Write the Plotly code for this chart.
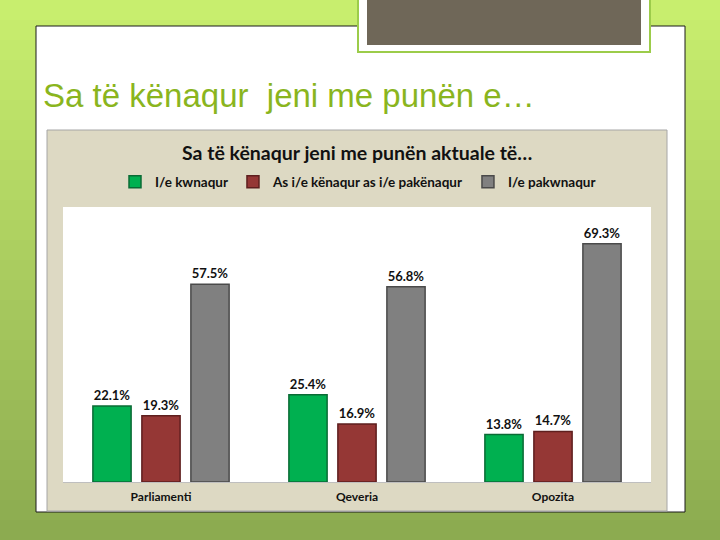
import plotly.graph_objects as go

categories = ["Parliamenti", "Qeveria", "Opozita"]
series_names = ["I/e kwnaqur", "As i/e kënaqur as i/e pakënaqur", "I/e pakwnaqur"]
satisfied = [22.1, 25.4, 13.8]
neutral = [19.3, 16.9, 14.7]
dissatisfied = [57.5, 56.8, 69.3]
series_values = [satisfied, neutral, dissatisfied]
fill_colors = ["#00b050", "#953735", "#808080"]
edge_colors = ["#0a6b35", "#5e1f1e", "#4a4a4a"]

slide_title = "Sa të kënaqur  jeni me punën e…"
chart_title = "Sa të kënaqur jeni me punën aktuale të…"

W, H = 720, 540
L, R, T, B = 63, 651, 207, 482


def px(x):
    return (x - L) / (R - L)


def py(y):
    return (B - y) / (B - T)


def rect(x0, y0, x1, y1, fill, line=None, lw=0):
    return dict(type="rect", xref="paper", yref="paper",
                x0=px(x0), x1=px(x1), y0=py(y1), y1=py(y0),
                fillcolor=fill, line=dict(color=line or fill, width=lw),
                layer="below")


def lerp(c1, c2, t):
    return "#%02x%02x%02x" % tuple(int(round(a + (b - a) * t)) for a, b in zip(c1, c2))


shapes = []
top_c = (0xc8, 0xee, 0x6e)
bot_c = (0x8c, 0xab, 0x50)
n = 27
for i in range(n):
    y0 = i * H / n
    y1 = (i + 1) * H / n + 1
    shapes.append(rect(0, y0, W, y1, lerp(top_c, bot_c, i / (n - 1))))

# white slide panel
shapes.append(rect(36, 26, 685, 512, "#ffffff", "#1a1a1a", 1))
# header box
shapes.append(rect(358, -2, 650, 52, "#ffffff", "#9ccc4a", 2))
shapes.append(rect(367, -2, 641, 45, "#6f6758"))
# chart box
shapes.append(rect(47, 130, 667, 511, "#ddd9c3", "#a6a6a6", 1))
# plot area
shapes.append(rect(L, T, R, B, "#ffffff"))

fig = go.Figure()
for name, vals, fc, ec in zip(series_names, series_values, fill_colors, edge_colors):
    fig.add_trace(go.Bar(
        x=categories, y=vals, name=name,
        marker=dict(color=fc, line=dict(color=ec, width=1.5)),
        text=[f"<b>{v:.1f}%</b>" for v in vals], textposition="outside",
        textfont=dict(family="Lato, Open Sans, sans-serif", size=13, color="#111111"),
        cliponaxis=False,
    ))

annotations = [
    dict(text=slide_title, xref="paper", yref="paper", x=px(41), y=py(95),
         xanchor="left", yanchor="middle", showarrow=False,
         font=dict(family="Liberation Sans, Arial, sans-serif", size=33, color="#8ab51e")),
    dict(text="<b>" + chart_title + "</b>", xref="paper", yref="paper", x=px(357), y=py(152),
         xanchor="center", yanchor="middle", showarrow=False,
         font=dict(family="Lato, Open Sans, sans-serif", size=19.5, color="#111111")),
]

fig.update_layout(
    width=W, height=H,
    margin=dict(l=L, r=W - R, t=T, b=H - B, pad=0),
    paper_bgcolor="#b8dc66",
    plot_bgcolor="rgba(0,0,0,0)",
    shapes=shapes,
    annotations=annotations,
    barmode="group",
    bargap=0.25,
    bargroupgap=0.22,
    showlegend=True,
    legend=dict(orientation="h", x=px(358), xanchor="center", y=py(182), yanchor="middle",
                bgcolor="rgba(0,0,0,0)",
                font=dict(family="Lato, Open Sans, sans-serif", size=13.5, color="#111111",
                          weight="bold"),
                itemwidth=30, traceorder="normal"),
    xaxis=dict(showline=True, linecolor="#bfbfbf", linewidth=1, ticks="",
               showgrid=False, ticklabelstandoff=4,
               tickfont=dict(family="Lato, Open Sans, sans-serif", size=12, color="#111111"),
               tickprefix="<b>", ticksuffix="</b>"),
    yaxis=dict(range=[0, 80], visible=False, showgrid=False, zeroline=False),
)

fig.write_html("out.html", config={"displayModeBar": False},
               post_script="document.body.style.margin='0';document.body.style.padding='0';")
